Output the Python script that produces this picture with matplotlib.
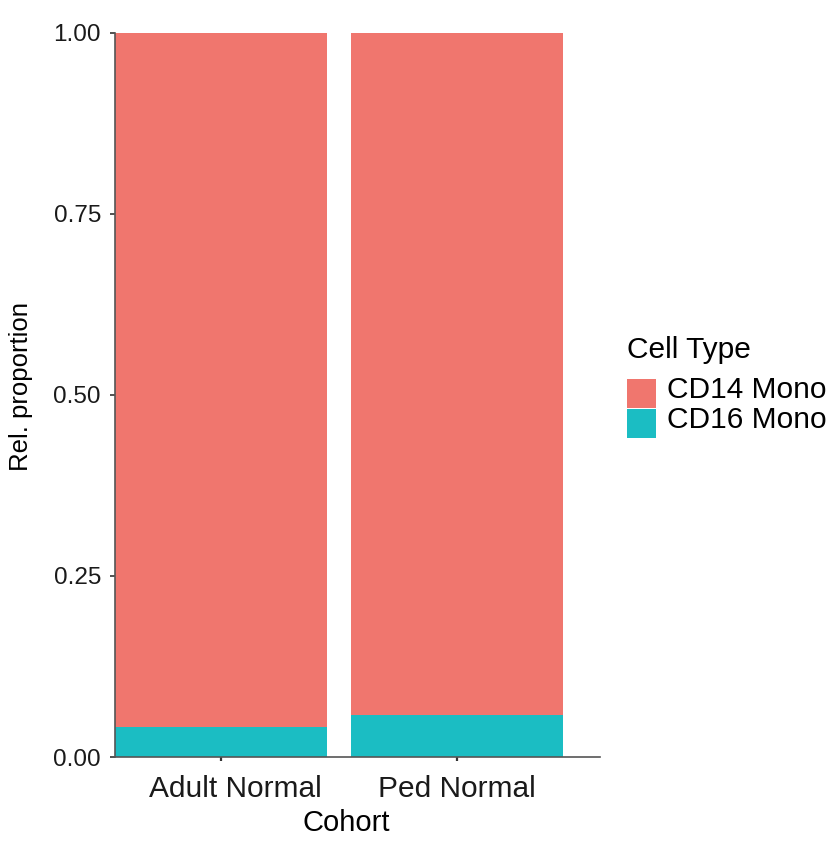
import matplotlib
matplotlib.use("Agg")
import matplotlib.pyplot as plt
import matplotlib.transforms as mtransforms
from matplotlib.patches import Rectangle
import numpy as np

plt.rcParams['font.family'] = ['Liberation Sans', 'DejaVu Sans']

cohorts = ["Adult Normal", "Ped Normal"]
cell_types = ["CD14 Mono", "CD16 Mono"]
cd16_prop = [0.041, 0.058]
cd14_prop = [1 - v for v in cd16_prop]
colors = {"CD14 Mono": "#F0766E", "CD16 Mono": "#1BBDC3"}
y_ticks = [0, 0.25, 0.5, 0.75, 1.0]
y_ticklabels = ["0.00", "0.25", "0.50", "0.75", "1.00"]

W, H = 833, 842
fig = plt.figure(figsize=(W / 100, H / 100), dpi=100)
ax = fig.add_axes([0.138, 0.1009, 0.582, 0.8603])

x = np.arange(len(cohorts))
ax.bar(x, cd16_prop, width=0.9, color=colors["CD16 Mono"], zorder=1)
ax.bar(x, cd14_prop, width=0.9, bottom=cd16_prop, color=colors["CD14 Mono"], zorder=1)

ax.set_xlim(-0.45, 1.6046)
ax.set_ylim(0, 1)
ax.set_xticks(x)
ax.set_xticklabels(cohorts, fontsize=21.5, color="#1a1a1a")
ax.set_yticks(y_ticks)
ax.set_yticklabels(y_ticklabels, fontsize=17.5, color="#1a1a1a")
ax.tick_params(axis="y", length=3.6, width=1.2, color="#333333", pad=6.5)
ax.tick_params(axis="x", length=3.2, width=1.6, color="#333333", pad=10)

# first category label sits a little right of its tick
lbl0 = ax.xaxis.get_major_ticks()[0].label1
lbl0.set_transform(lbl0.get_transform()
                   + mtransforms.ScaledTranslation(0.14, 0, fig.dpi_scale_trans))

ax.set_xlabel("Cohort", fontsize=21, labelpad=4)
ax.xaxis.label.set_x(0.4765)
ax.set_ylabel("Rel. proportion", fontsize=18.5, labelpad=14.4)
ax.yaxis.label.set_y(0.511)

for s in ["top", "right"]:
    ax.spines[s].set_visible(False)
for s in ["left", "bottom"]:
    ax.spines[s].set_color("#555555")
    ax.spines[s].set_linewidth(1.2)
    ax.spines[s].set_zorder(3)

# legend block (pixel layout in figure space, y measured from the top)
def fx(px):
    return px / W

def fy(py):
    return 1 - py / H

fig.text(fx(627), fy(357.7), "Cell Type", fontsize=21.5,
         ha="left", va="baseline", color="#000000")
key_left, key_w, key_h, key_top, pitch = 627.3, 28.7, 28.4, 379.3, 29.8
for i, ct in enumerate(cell_types):
    top = key_top + i * pitch
    fig.patches.append(Rectangle((fx(key_left), fy(top + key_h)),
                                 key_w / W, key_h / H,
                                 transform=fig.transFigure,
                                 facecolor=colors[ct], edgecolor="none"))
    fig.text(fx(666.7), fy(398.3 + i * 30), ct, fontsize=21.5,
             ha="left", va="baseline", color="#000000")

fig.savefig("out.png", dpi=100, facecolor="white")
